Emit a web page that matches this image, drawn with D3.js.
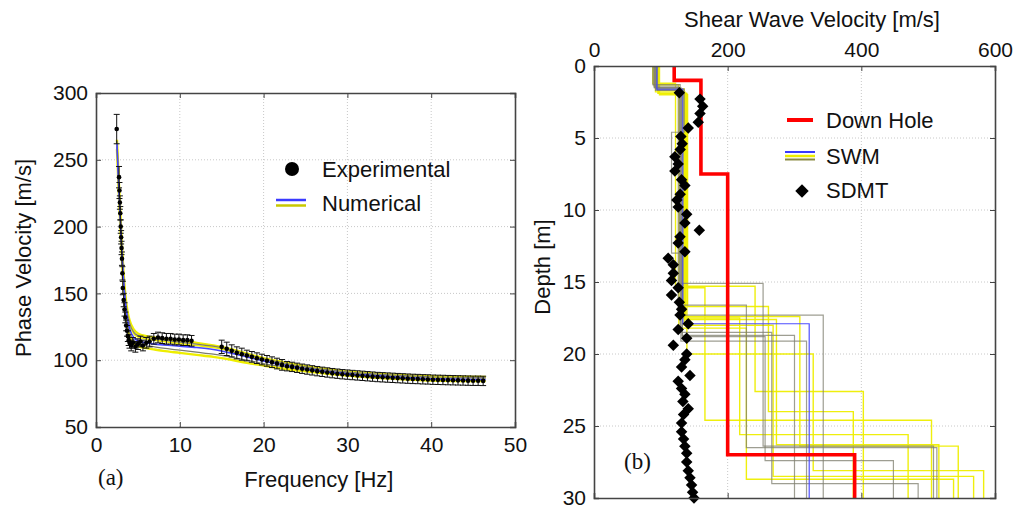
<!DOCTYPE html>
<html>
<head>
<meta charset="utf-8">
<script src="https://cdn.jsdelivr.net/npm/d3@7"></script>
<style>
  html, body { margin: 0; padding: 0; background: #fff; }
  svg { display: block; }
  text { font-family: "Liberation Sans", Arial, sans-serif; fill: #111; }
</style>
</head>
<body>
<svg id="chart" width="1014" height="512"></svg>
<script>
// ---------------- DATA: panel (a) ----------------
const expFreq = [2.47, 2.75, 2.8, 2.85, 2.9, 2.95, 3.0, 3.05, 3.1, 3.15, 3.2, 3.3, 3.4, 3.5, 3.6, 3.7, 3.8, 3.9, 4.0, 4.2, 4.4,
  4.7, 5.0, 5.3, 5.6, 6.0, 6.4, 6.9, 7.4, 7.9, 8.4, 8.9, 9.4, 9.9, 10.4, 10.9, 11.4,
  15.0, 15.6, 16.2, 16.8, 17.4, 18.0, 18.6, 19.2, 19.8, 20.4, 21.0, 21.6, 22.2, 22.8, 23.4, 24.0, 24.6, 25.2, 25.8,
  26.4, 27.0, 27.6, 28.2, 28.8, 29.4, 30.0, 30.6, 31.2, 31.8, 32.4, 33.0, 33.6, 34.2, 34.8, 35.4, 36.0, 36.6, 37.2,
  37.8, 38.4, 39.0, 39.6, 40.2, 40.8, 41.4, 42.0, 42.6, 43.2, 43.8, 44.4, 45.0, 45.6, 46.2];
const expVel = [273, 237, 227, 218, 210, 200, 192, 184, 176, 165, 154, 145, 138, 132, 126, 122, 118, 115, 113, 111, 113,
  110, 112, 114, 111, 113, 114, 116, 117, 116.5, 116, 116, 115.5, 115.5, 115, 115, 114.5,
  110, 108.5, 107, 105.5, 104.5, 103.5, 102.5, 101.5, 100.5, 99.5, 98.5, 97.5, 96.5, 95.5, 95, 94.3, 93.6, 93, 92.4,
  91.8, 91.3, 90.8, 90.3, 89.9, 89.5, 89.2, 88.9, 88.6, 88.3, 88, 87.7, 87.4, 87.2, 87, 86.8, 86.6, 86.4, 86.2,
  86, 85.9, 85.7, 85.6, 85.4, 85.3, 85.2, 85.1, 85, 84.9, 84.8, 84.7, 84.6, 84.6, 84.5];
const expErr = [11, 8, 6, 5, 5, 5, 5, 5, 5, 5, 5, 5, 5, 4, 4, 4, 4, 4, 4, 4, 4,
  4, 4, 4, 4, 4, 4, 4, 4, 4, 4, 4, 4, 4, 4, 4, 4,
  5, 5, 4.5, 4.5, 4.5, 4, 4, 4, 4, 4, 4, 4, 4, 3.5, 3.5, 3.5, 3.5, 3.5, 3.5,
  3.5, 3.5, 3.5, 3.5, 3.5, 3.5, 3.5, 3.5, 3.5, 3.5, 3.5, 3.5, 3.5, 3.5, 3.5, 3.5, 3.5, 3.5, 3.5,
  3.5, 3.5, 3.5, 3.5, 3.5, 3.5, 3.5, 3.5, 3.5, 3.5, 3.5, 3.5, 3.5, 3.5, 3.5];

const numFreq   = [2.5, 2.7, 3.0, 3.25, 3.5, 3.75, 4.0, 4.5, 5.0, 6.0, 7.0, 8.0, 10.0, 12.0, 14.0, 16.0, 18.0, 20.0, 22.0, 25.0, 28.0, 30.0, 35.0, 40.0, 46.5];
const numBlue   = [262, 232, 192, 163, 143, 131, 124, 117, 114.5, 113, 112, 111.5, 110.5, 109.5, 108, 105.5, 102.5, 99.5, 97, 93.8, 91.3, 90, 87.8, 86.3, 85.7];
const numYellow1= [265, 237, 198, 169, 149, 137, 130, 123, 120, 118, 117, 116, 114.5, 113, 111, 108.5, 105, 101.5, 99, 95.5, 93, 91.5, 89.3, 88, 87.5];
const numYellow2= [258, 228, 187, 158, 139, 127, 119, 113, 110.5, 109, 108, 107, 105.5, 104, 102.5, 100.5, 98, 96, 94, 91.7, 89.7, 88.5, 86.3, 84.8, 84.3];
const numYellow3= [263, 234, 195, 166, 146, 134, 127, 120, 117.5, 116, 115, 114, 112.5, 111, 109.5, 107, 103.5, 100.5, 98, 94.6, 92.2, 90.8, 88.6, 87.2, 86.6];
const numGray1  = [260, 230, 190, 161, 141, 129, 121, 115, 112.5, 111, 110, 109, 107.5, 106, 104.5, 102.5, 100, 97.5, 95.5, 92.7, 90.5, 89.2, 87, 85.5, 85];
const numGray2  = [264, 235, 196, 167, 147, 135, 128, 121, 118.5, 117, 116, 115, 113.5, 112, 110.5, 108, 104.5, 101, 98.5, 95, 92.6, 91.2, 89, 87.6, 87];

const xTicksA = [0, 10, 20, 30, 40, 50];
const yTicksA = [50, 100, 150, 200, 250, 300];

// ---------------- DATA: panel (b) ----------------
const downHoleVel = [120, 160, 200, 390];
const downHoleDep = [1.0, 7.5, 27.0];

const swmColor = ["yellow", "yellow", "yellow", "yellow", "yellow", "yellow", "yellow", "yellow", "yellow",
                  "gray", "gray", "gray", "gray", "gray", "gray", "gray", "blue"];
const swmVel = [
  [96, 138, 241, 403],
  [88, 122, 166, 505],
  [98, 140, 261, 388],
  [94, 134, 218, 470],
  [92, 136, 273, 516],
  [97, 139, 328, 583],
  [93, 135, 268, 568],
  [89, 127, 228, 538],
  [96, 137, 308, 545],
  [90, 128, 253, 508],
  [92, 131, 228, 513],
  [90, 126, 343],
  [88, 129, 266, 485],
  [95, 132, 256, 448],
  [91, 130, 318],
  [93, 135, 116, 132, 300],
  [94, 133, 322]
];
const swmDep = [
  [1.9, 15.3, 22.6],
  [1.2, 15.4, 24.6],
  [2.0, 16.7, 24.0],
  [1.6, 17.5, 25.6],
  [1.8, 17.6, 26.3],
  [1.9, 20.0, 28.1],
  [1.6, 18.0, 28.5],
  [1.3, 18.2, 28.7],
  [1.9, 17.4, 26.4],
  [1.5, 15.1, 26.4],
  [1.7, 16.6, 26.5],
  [1.4, 17.3],
  [1.3, 18.5, 29.0],
  [1.7, 18.8, 27.4],
  [1.5, 19.1],
  [1.6, 4.6, 13.0, 18.7],
  [1.6, 17.9]
];

const sdmtVel = [127.7, 158.6, 162.6, 158.6, 156, 141, 130, 132, 129, 121, 126, 121, 131, 136, 129,
  124, 126, 138.7, 136, 157.6, 128.7, 126, 136, 111, 118.7, 118.7, 116, 126, 116, 127.7, 131,
  128.7, 141, 126, 138.7, 118.7, 138.7, 136, 131, 143.6, 126, 131, 136, 133, 141, 134, 131, 131,
  134, 136, 138.7, 138.7, 141, 143.6, 146, 147.5, 149.6];
const sdmtDep = [1.85, 2.3, 2.8, 3.3, 3.9, 4.3, 4.9, 5.4, 5.8, 6.3, 6.8, 7.3, 7.9, 8.3, 8.9,
  9.3, 9.8, 10.3, 10.9, 11.4, 11.85, 12.3, 12.9, 13.35, 13.8, 14.4, 14.9, 15.4, 15.9, 16.4, 16.9,
  17.3, 17.9, 18.3, 18.9, 19.4, 20.0, 20.4, 20.9, 21.5, 21.9, 22.4, 22.8, 23.3, 23.8, 24.2, 24.8, 25.4,
  25.9, 26.4, 26.9, 27.5, 28.1, 28.6, 29.1, 29.6, 30.0];

const xTicksB = [0, 200, 400, 600];
const yTicksB = [0, 5, 10, 15, 20, 25, 30];

// ---------------- DRAWING ----------------
const svg = d3.select("#chart");
const COL = { yellow: "#eeee00", gray: "#7d7d6e", blue: "#4646ff" };
const FS = 21;

// ===== Panel (a) =====
const xA = d3.scaleLinear().domain([0, 50]).range([96, 515]);
const yA = d3.scaleLinear().domain([50, 300]).range([427, 93]);
const gA = svg.append("g");

gA.selectAll("line.gx").data(xTicksA.slice(1, -1)).join("line")
  .attr("x1", d => xA(d)).attr("x2", d => xA(d)).attr("y1", yA(50)).attr("y2", yA(300))
  .attr("stroke", "#c8c8c8").attr("stroke-dasharray", "1,2");
gA.selectAll("line.gy").data(yTicksA.slice(1, -1)).join("line")
  .attr("x1", xA(0)).attr("x2", xA(50)).attr("y1", d => yA(d)).attr("y2", d => yA(d))
  .attr("stroke", "#c8c8c8").attr("stroke-dasharray", "1,2");

const lineA = d3.line().x((d, i) => xA(numFreq[i])).y(d => yA(d)).curve(d3.curveMonotoneX);
const numCurves = [
  [numYellow1, COL.yellow, 2.4], [numYellow2, COL.yellow, 2.4], [numYellow3, COL.yellow, 1.6],
  [numGray1, COL.gray, 1.2], [numGray2, COL.gray, 1.2], [numBlue, COL.blue, 1.6]
];
numCurves.forEach(([vals, c, w]) => {
  gA.append("path").attr("d", lineA(vals)).attr("fill", "none").attr("stroke", c).attr("stroke-width", w);
});

const expData = expFreq.map((f, i) => ({ f, v: expVel[i], e: expErr[i] }));
const eb = gA.append("g").attr("stroke", "#111").attr("stroke-width", 1);
expData.forEach(d => {
  const x = xA(d.f), y1 = yA(d.v - d.e), y2 = yA(d.v + d.e);
  eb.append("line").attr("x1", x).attr("x2", x).attr("y1", y1).attr("y2", y2);
  eb.append("line").attr("x1", x - 3).attr("x2", x + 3).attr("y1", y1).attr("y2", y1);
  eb.append("line").attr("x1", x - 3).attr("x2", x + 3).attr("y1", y2).attr("y2", y2);
});
gA.selectAll("circle.exp").data(expData).join("circle")
  .attr("cx", d => xA(d.f)).attr("cy", d => yA(d.v)).attr("r", 2.3).attr("fill", "#000");

const axA = [
  ["b", d3.axisBottom(xA).tickValues(xTicksA).tickSize(-5).tickPadding(10), `translate(0,${yA(50)})`],
  ["t", d3.axisTop(xA).tickValues(xTicksA).tickSize(-5).tickFormat(""), `translate(0,${yA(300)})`],
  ["l", d3.axisLeft(yA).tickValues(yTicksA).tickSize(-5).tickPadding(8), `translate(${xA(0)},0)`],
  ["r", d3.axisRight(yA).tickValues(yTicksA).tickSize(-5).tickFormat(""), `translate(${xA(50)},0)`]
];
axA.forEach(([k, ax, tr]) => {
  const g = gA.append("g").attr("transform", tr).call(ax);
  g.select(".domain").attr("stroke", "#444").attr("stroke-width", 1.6);
  g.selectAll(".tick line").attr("stroke", "#444");
  g.selectAll("text").attr("font-size", FS).attr("fill", "#111").style("font-family", '"Liberation Sans", Arial, sans-serif');
});

gA.append("text").attr("x", xA(26.6)).attr("y", 487).attr("text-anchor", "middle")
  .attr("font-size", FS + 1).text("Frequency [Hz]");
gA.append("text").attr("transform", "translate(31,258) rotate(-90)").attr("text-anchor", "middle")
  .attr("font-size", FS + 1).text("Phase Velocity [m/s]");
gA.append("text").attr("x", 98).attr("y", 485).attr("font-size", 23)
  .style("font-family", '"Liberation Serif", "DejaVu Serif", serif').text("(a)");

gA.append("circle").attr("cx", 292).attr("cy", 169).attr("r", 7).attr("fill", "#000");
gA.append("text").attr("x", 322).attr("y", 177).attr("font-size", FS + 1).text("Experimental");
gA.append("line").attr("x1", 276).attr("x2", 306).attr("y1", 200).attr("y2", 200).attr("stroke", "#3a3aff").attr("stroke-width", 2.5);
gA.append("line").attr("x1", 276).attr("x2", 306).attr("y1", 205.5).attr("y2", 205.5).attr("stroke", "#c8c800").attr("stroke-width", 2.5);
gA.append("text").attr("x", 322).attr("y", 211).attr("font-size", FS + 1).text("Numerical");

// ===== Panel (b) =====
const xB = d3.scaleLinear().domain([0, 600]).range([594, 995]);
const yB = d3.scaleLinear().domain([0, 30]).range([66, 498]);
const gB = svg.append("g");

gB.selectAll("line.gx").data(xTicksB.slice(1, -1)).join("line")
  .attr("x1", d => xB(d)).attr("x2", d => xB(d)).attr("y1", yB(0)).attr("y2", yB(30))
  .attr("stroke", "#c8c8c8").attr("stroke-dasharray", "1,2");
gB.selectAll("line.gy").data(yTicksB.slice(1, -1)).join("line")
  .attr("x1", xB(0)).attr("x2", xB(600)).attr("y1", d => yB(d)).attr("y2", d => yB(d))
  .attr("stroke", "#c8c8c8").attr("stroke-dasharray", "1,2");

function stepPts(vels, deps) {
  const pts = [[vels[0], 0]];
  deps.forEach((d, i) => { pts.push([vels[i], d]); pts.push([vels[i + 1], d]); });
  pts.push([vels[vels.length - 1], 30]);
  return pts;
}
const lineB = d3.line().x(p => xB(p[0])).y(p => yB(p[1]));

const order = ["yellow", "gray", "blue"];
order.forEach(c => {
  swmVel.forEach((vels, i) => {
    if (swmColor[i] !== c) return;
    gB.append("path").attr("d", lineB(stepPts(vels, swmDep[i])))
      .attr("fill", "none").attr("stroke", COL[c])
      .attr("stroke-width", c === "yellow" ? 1.4 : 1.2)
      .attr("stroke-opacity", c === "gray" ? 0.75 : 0.95);
  });
});

gB.append("path").attr("d", lineB(stepPts(downHoleVel, downHoleDep)))
  .attr("fill", "none").attr("stroke", "#ff0000").attr("stroke-width", 3.6);

const diamond = d3.symbol().type(d3.symbolSquare).size(66);
gB.selectAll("path.sdmt").data(sdmtVel.map((v, i) => ({ v, d: sdmtDep[i] }))).join("path")
  .attr("d", diamond)
  .attr("transform", d => `translate(${xB(d.v)},${yB(d.d)}) rotate(45)`)
  .attr("fill", "#000");

const axB = [
  ["t", d3.axisTop(xB).tickValues(xTicksB).tickSize(-5).tickPadding(9), `translate(0,${yB(0)})`],
  ["b", d3.axisBottom(xB).tickValues(xTicksB).tickSize(-5).tickFormat(""), `translate(0,${yB(30)})`],
  ["l", d3.axisLeft(yB).tickValues(yTicksB).tickSize(-5).tickPadding(8), `translate(${xB(0)},0)`],
  ["r", d3.axisRight(yB).tickValues(yTicksB).tickSize(-5).tickFormat(""), `translate(${xB(600)},0)`]
];
axB.forEach(([k, ax, tr]) => {
  const g = gB.append("g").attr("transform", tr).call(ax);
  g.select(".domain").attr("stroke", "#444").attr("stroke-width", 1.6);
  g.selectAll(".tick line").attr("stroke", "#444");
  g.selectAll("text").attr("font-size", FS).attr("fill", "#111").style("font-family", '"Liberation Sans", Arial, sans-serif');
});

gB.append("text").attr("x", 812).attr("y", 27).attr("text-anchor", "middle")
  .attr("font-size", FS + 1).text("Shear Wave Velocity [m/s]");
gB.append("text").attr("transform", "translate(550,267) rotate(-90)").attr("text-anchor", "middle")
  .attr("font-size", FS + 1).text("Depth [m]");
gB.append("text").attr("x", 624).attr("y", 469).attr("font-size", 23)
  .style("font-family", '"Liberation Serif", "DejaVu Serif", serif').text("(b)");

gB.append("line").attr("x1", 787).attr("x2", 813).attr("y1", 120).attr("y2", 120).attr("stroke", "#ff0000").attr("stroke-width", 4);
gB.append("text").attr("x", 826).attr("y", 128).attr("font-size", FS + 1).text("Down Hole");
gB.append("line").attr("x1", 785).attr("x2", 815).attr("y1", 152).attr("y2", 152).attr("stroke", "#3a3aff").attr("stroke-width", 2);
gB.append("line").attr("x1", 785).attr("x2", 815).attr("y1", 156).attr("y2", 156).attr("stroke", "#eeee00").attr("stroke-width", 2.5);
gB.append("line").attr("x1", 785).attr("x2", 815).attr("y1", 159.5).attr("y2", 159.5).attr("stroke", "#8a8a40").attr("stroke-width", 2);
gB.append("text").attr("x", 826).attr("y", 164).attr("font-size", FS + 1).text("SWM");
gB.append("path").attr("d", d3.symbol().type(d3.symbolSquare).size(90)())
  .attr("transform", "translate(802,191) rotate(45)").attr("fill", "#000");
gB.append("text").attr("x", 826).attr("y", 198).attr("font-size", FS + 1).text("SDMT");
</script>
</body>
</html>
